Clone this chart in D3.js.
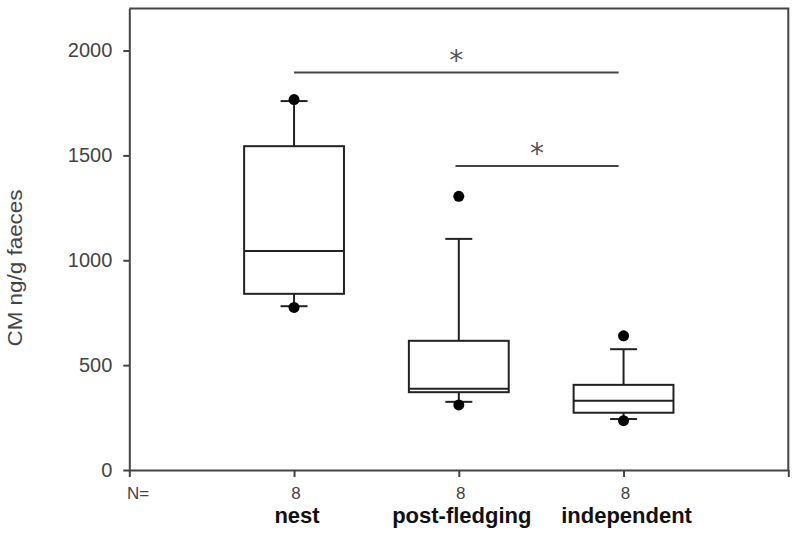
<!DOCTYPE html>
<html>
<head>
<meta charset="utf-8">
<script src="https://cdn.jsdelivr.net/npm/d3@7"></script>
<style>
  body { margin: 0; background: #fff; }
  svg { display: block; font-family: "Liberation Sans", Arial, sans-serif; }
</style>
</head>
<body>
<div id="chart"></div>
<script>
// Data
const categories = ["nest", "post-fledging", "independent"];
const counts = [8, 8, 8];
const q1 = [840, 371, 273];
const medians = [1044, 387, 330];
const q3 = [1544, 616, 406];
const whiskerLow = [781, 325, 243];
const whiskerHigh = [1759, 1102, 576];
const outliers = [[775, 1766], [310, 1305], [235, 640]];
const yTicks = [0, 500, 1000, 1500, 2000];
const brackets = [
    { from: 1, to: 2.97, value: 1895 },
    { from: 1.98, to: 2.97, value: 1449 }
];

const width = 800;
const height = 540;

const svg = d3.select('#chart')
    .append('svg')
    .attr('width', width)
    .attr('height', height);

// Scales
const x = d3.scaleLinear().domain([0, 4]).range([129.3, 788.3]);
const y = d3.scaleLinear().domain([0, 2200]).range([470, 8.6]);

const boxHalf = 0.303;   // in x units
const capHalf = 13.5;    // px

// Frame (top + right)
svg.append('path')
    .attr('d', `M${x(0)},${y(2200)}H${x(4)}V${y(0)}`)
    .attr('fill', 'none')
    .attr('stroke', '#444')
    .attr('stroke-width', 2);

// Y axis
const yAxis = svg.append('g')
    .attr('transform', `translate(${x(0)},0)`)
    .call(d3.axisLeft(y).tickValues(yTicks).tickFormat(d3.format('d'))
        .tickSize(6).tickPadding(11).tickSizeOuter(0));
yAxis.select('.domain').attr('stroke', '#444').attr('stroke-width', 2);
yAxis.selectAll('.tick line').attr('stroke', '#444').attr('stroke-width', 2);
yAxis.selectAll('.tick text')
    .style('font-size', '20px')
    .style('font-family', '"Liberation Sans", Arial, sans-serif')
    .attr('fill', '#444');

// X axis
const xAxis = svg.append('g')
    .attr('transform', `translate(0,${y(0)})`)
    .call(d3.axisBottom(x).tickValues([0, 1, 2, 3, 4]).tickSize(7).tickFormat('').tickSizeOuter(0));
xAxis.select('.domain').attr('stroke', '#444').attr('stroke-width', 2);
xAxis.selectAll('.tick line').attr('stroke', '#444').attr('stroke-width', 2);

// Y axis title
svg.append('text')
    .attr('transform', `translate(22,268) rotate(-90)`)
    .attr('text-anchor', 'middle')
    .attr('textLength', 157)
    .attr('lengthAdjust', 'spacingAndGlyphs')
    .style('font-size', '20px')
    .attr('fill', '#444')
    .text('CM ng/g faeces');

// N= row
svg.append('text')
    .attr('x', 127)
    .attr('y', 499)
    .style('font-size', '17px')
    .attr('fill', '#444')
    .text('N=');

const idx = d3.range(categories.length);

svg.selectAll('.count')
    .data(idx)
    .enter()
    .append('text')
    .attr('class', 'count')
    .attr('x', i => x(i + 1) + 2)
    .attr('y', 499)
    .attr('text-anchor', 'middle')
    .style('font-size', '17px')
    .attr('fill', '#444')
    .text(i => counts[i]);

svg.selectAll('.cat')
    .data(idx)
    .enter()
    .append('text')
    .attr('class', 'cat')
    .attr('x', i => x(i + 1) + 3)
    .attr('y', 523)
    .attr('text-anchor', 'middle')
    .style('font-size', '22px')
    .style('font-weight', 'bold')
    .attr('fill', '#111')
    .text(i => categories[i]);

// Boxes
const g = svg.append('g')
    .attr('stroke', '#222')
    .attr('stroke-width', 2)
    .attr('fill', 'none');

idx.forEach(i => {
    const cx = x(i + 1);
    // whiskers
    g.append('line')
        .attr('x1', cx).attr('x2', cx)
        .attr('y1', y(q3[i])).attr('y2', y(whiskerHigh[i]));
    g.append('line')
        .attr('x1', cx).attr('x2', cx)
        .attr('y1', y(q1[i])).attr('y2', y(whiskerLow[i]));
    g.append('line')
        .attr('x1', cx - capHalf).attr('x2', cx + capHalf)
        .attr('y1', y(whiskerHigh[i])).attr('y2', y(whiskerHigh[i]));
    g.append('line')
        .attr('x1', cx - capHalf).attr('x2', cx + capHalf)
        .attr('y1', y(whiskerLow[i])).attr('y2', y(whiskerLow[i]));
    // box
    g.append('rect')
        .attr('x', x(i + 1 - boxHalf))
        .attr('y', y(q3[i]))
        .attr('width', x(i + 1 + boxHalf) - x(i + 1 - boxHalf))
        .attr('height', y(q1[i]) - y(q3[i]))
        .attr('fill', '#fff');
    g.append('line')
        .attr('x1', x(i + 1 - boxHalf)).attr('x2', x(i + 1 + boxHalf))
        .attr('y1', y(medians[i])).attr('y2', y(medians[i]));
});

// Outlier dots
svg.selectAll('.dot')
    .data(idx.flatMap(i => outliers[i].map(v => ({ i, v }))))
    .enter()
    .append('circle')
    .attr('class', 'dot')
    .attr('cx', d => x(d.i + 1))
    .attr('cy', d => y(d.v))
    .attr('r', 5.5)
    .attr('fill', '#000');

// Significance brackets
svg.selectAll('.sig')
    .data(brackets)
    .enter()
    .append('line')
    .attr('class', 'sig')
    .attr('x1', d => x(d.from))
    .attr('x2', d => x(d.to))
    .attr('y1', d => y(d.value))
    .attr('y2', d => y(d.value))
    .attr('stroke', '#444')
    .attr('stroke-width', 2);

svg.selectAll('.star')
    .data(brackets)
    .enter()
    .append('text')
    .attr('class', 'star')
    .attr('x', d => (x(d.from) + x(d.to)) / 2)
    .attr('y', d => y(d.value) - 3)
    .attr('text-anchor', 'middle')
    .style('font-family', '"DejaVu Sans", sans-serif')
    .style('font-size', '28px')
    .attr('fill', '#555')
    .text('*');
</script>
</body>
</html>
